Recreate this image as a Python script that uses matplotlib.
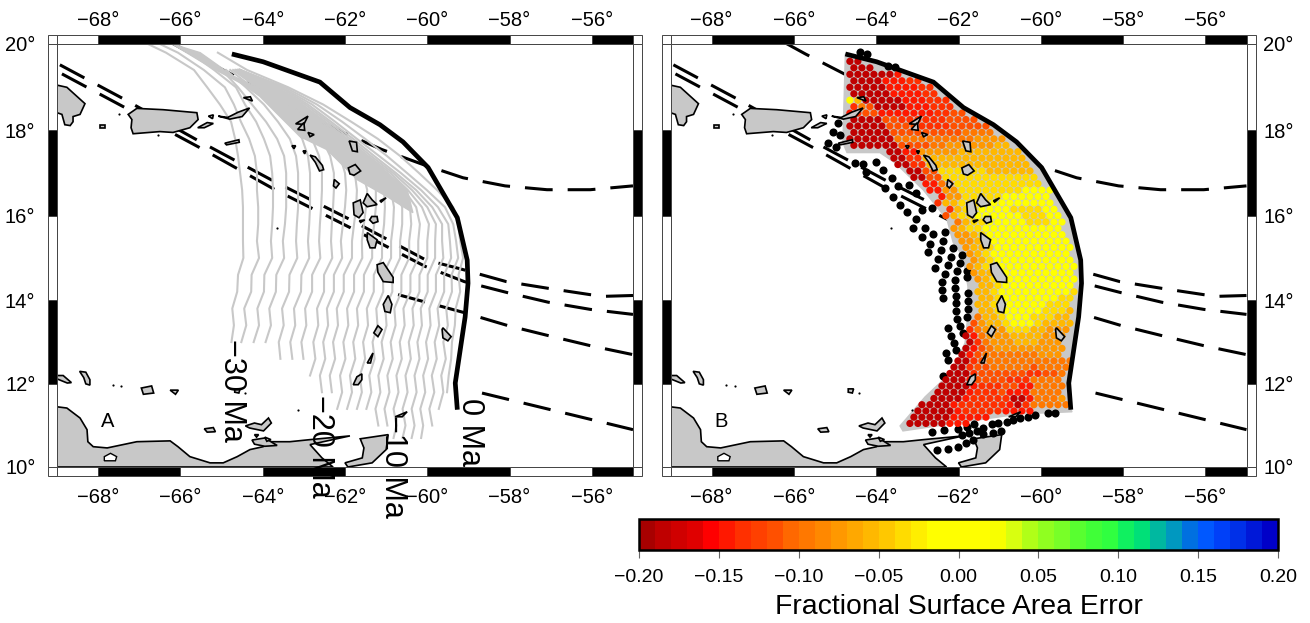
"""
plot.py - two Mercator panels of the Caribbean arc: isochrones (A) and
fractional surface area error of the restored plate (B), shared colour bar.
"""
import matplotlib
matplotlib.use("Agg")
import matplotlib.pyplot as plt
import numpy as np
from matplotlib.colors import BoundaryNorm, ListedColormap
from matplotlib.patches import Polygon, Rectangle

plt.rcParams["font.family"] = ["Liberation Sans", "DejaVu Sans"]
plt.rcParams["lines.scale_dashes"] = False

nan = np.nan

# ---- map furniture -------------------------------------------------------
lon_ticks = [-68, -66, -64, -62, -60, -58, -56]
lat_ticks = [10, 12, 14, 16, 18, 20]
lon_edges = [-69, -68, -66, -64, -62, -60, -58, -56, -55]
lat_edges = [10, 12, 14, 16, 18, 20]

# ---- trench and faults (lon, lat) ----------------------------------------
trench_lon = [-64.75, -63.99, -62.61, -61.88, -61.15, -60.59, -59.98, -59.27, -59.03, -59.01, -59.08, -59.32, -59.27]
trench_lat = [19.77, 19.59, 19.12, 18.53, 18.13, 17.73, 17.13, 15.95, 14.95, 14.40, 13.60, 12.02, 11.38]

fault1_lon = [-66.22, -65.72, -64.43, -63.58, -62.05, -61.10, -60.10, -59.13, -58.11, -57.09, -56.04, -55.0]
fault1_lat = [20.03, 19.77, 19.14, 18.65, 17.95, 17.55, 17.20, 16.89, 16.70, 16.61, 16.61, 16.70]
fault2_lon = [-68.93, -67.40, -65.57, -63.75, -61.88, -60.05, -59.15, -58.08, -57.06, -56.04, -55.70, -55.0]
fault2_lat = [19.52, 18.74, 17.76, 16.82, 15.91, 14.96, 14.73, 14.44, 14.28, 14.13, 14.09, 14.11]
fault3_lon = [-68.88, -67.35, -65.52, -63.72, -61.88, -60.05, -59.10, -58.06, -57.06, -56.04, -55.0]
fault3_lat = [19.31, 18.53, 17.59, 16.62, 15.72, 14.80, 14.44, 14.18, 13.95, 13.78, 13.66]
fault4_lon = [-60.71, -59.13, -58.03, -57.04, -56.02, -55.0]
fault4_lat = [14.13, 13.71, 13.39, 13.15, 12.91, 12.70]
fault5_lon = [-58.67, -55.0]
fault5_lat = [11.78, 10.90]
faults = [(fault1_lon, fault1_lat), (fault2_lon, fault2_lat), (fault3_lon, fault3_lat),
          (fault4_lon, fault4_lat), (fault5_lon, fault5_lat)]

# ---- isochrones, lon of each line at these latitudes ---------------------
iso_lat = [20.0, 19.8, 19.4, 19.0, 18.6, 18.2, 17.8, 17.4, 17.0, 16.6, 16.2, 15.8, 15.4,
           15.0, 14.6, 14.2, 13.8, 13.4, 13.0, 12.6, 12.2, 11.8, 11.4, 11.0, 10.7]
iso_lon = [
    [-66.79, -66.35, -65.67, -65.35, -65.04, -64.77, -64.67, -64.60, -64.55, -64.50, -64.48, -64.48, -64.48,
     -64.47, -64.60, -64.62, -64.74, -64.70, -64.76],
    [-66.50, -66.06, -65.43, -64.92, -64.70, -64.53, -64.33, -64.19, -64.14, -64.14, -64.11, -64.11, -64.14,
     -64.09, -64.27, -64.28, -64.45, -64.40, -64.52],
    [-66.13, -65.77, -65.18, -64.65, -64.43, -64.16, -63.97, -63.82, -63.77, -63.75, -63.75, -63.77, -63.80,
     -63.77, -63.96, -63.97, -64.13, -64.09, -64.22],
    [nan, nan, -64.99, -64.60, -64.26, -63.92, -63.65, -63.48, -63.43, -63.43, -63.43, -63.46, -63.51,
     -63.48, -63.67, -63.68, -63.84, -63.80, -63.93],
    [nan, nan, -64.89, -64.41, -63.97, -63.63, -63.34, -63.19, -63.14, -63.14, -63.14, -63.17, -63.19,
     -63.16, -63.35, -63.36, -63.53, -63.49, -63.61, -63.57],
    [nan, nan, -64.79, -64.26, -63.77, -63.29, -63.04, -62.90, -62.85, -62.85, -62.85, -62.87, -62.90,
     -62.87, -63.06, -63.07, -63.24, -63.21, -63.33, -63.28],
    [nan, nan, -64.72, -64.14, -63.63, -63.14, -62.80, -62.63, -62.56, -62.56, -62.58, -62.61, -62.63,
     -62.60, -62.80, -62.80, -62.97, -62.94, -63.06, -63.01],
    [nan, nan, -64.67, -64.09, -63.53, -63.00, -62.56, -62.36, -62.27, -62.27, -62.29, -62.32, -62.34,
     -62.31, -62.51, -62.51, -62.68, -62.65, -62.77, -62.72, -62.85],
    [nan, nan, -64.65, -64.04, -63.48, -62.92, -62.41, -62.12, -62.00, -61.97, -62.00, -62.05, -62.10,
     -62.07, -62.27, -62.27, -62.44, -62.41, -62.53, -62.48, -62.61, -62.56],
    [nan, nan, -64.62, -63.99, -63.43, -62.87, -62.34, -61.93, -61.76, -61.71, -61.73, -61.78, -61.83,
     -61.83, -62.03, -62.03, -62.20, -62.17, -62.29, -62.24, -62.37, -62.32],
    [nan, nan, -64.60, -63.94, -63.38, -62.83, -62.29, -61.83, -61.56, -61.46, -61.49, -61.54, -61.59,
     -61.58, -61.78, -61.78, -61.95, -61.92, -62.04, -61.99, -62.12, -62.07, -62.19],
    [nan, nan, -64.60, -63.89, -63.34, -62.78, -62.24, -61.76, -61.42, -61.25, -61.25, -61.29, -61.34,
     -61.34, -61.54, -61.54, -61.71, -61.68, -61.80, -61.75, -61.88, -61.83, -61.95],
    [nan, nan, -64.58, -63.87, -63.29, -62.73, -62.19, -61.68, -61.29, -61.05, -61.03, -61.05, -61.10,
     -61.10, -61.30, -61.30, -61.47, -61.44, -61.56, -61.51, -61.64, -61.59, -61.71],
    [nan, nan, -64.58, -63.85, -63.24, -62.68, -62.14, -61.63, -61.20, -60.88, -60.81, -60.83, -60.88,
     -60.88, -61.08, -61.07, -61.24, -61.21, -61.33, -61.28, -61.41, -61.36, -61.48],
    [nan, nan, -64.55, -63.82, -63.19, -62.63, -62.10, -61.59, -61.12, -60.76, -60.61, -60.61, -60.66,
     -60.66, -60.85, -60.85, -61.02, -60.99, -61.11, -61.06, -61.19, -61.14, -61.26, -61.19],
    [nan, nan, -64.55, -63.80, -63.14, -62.58, -62.05, -61.54, -61.05, -60.66, -60.42, -60.39, -60.44,
     -60.44, -60.63, -60.63, -60.80, -60.77, -60.89, -60.84, -60.97, -60.92, -61.04, -60.97],
    [nan, nan, -64.55, -63.75, -63.09, -62.53, -62.00, -61.49, -60.98, -60.56, -60.27, -60.18, -60.22,
     -60.22, -60.41, -60.41, -60.58, -60.55, -60.67, -60.62, -60.75, -60.70, -60.82, -60.75, -60.82],
    [nan, nan, -64.55, -63.70, -63.04, -62.48, -61.95, -61.44, -60.90, -60.47, -60.13, -59.96, -60.00,
     -60.00, -60.19, -60.19, -60.36, -60.33, -60.45, -60.40, -60.53, -60.48, -60.60, -60.53, -60.60],
    [nan, nan, -64.55, -63.65, -62.97, -62.41, -61.88, -61.37, -60.83, -60.37, -60.00, -59.79, -59.81,
     -59.81, -59.99, -59.99, -60.16, -60.13, -60.24, -60.19, -60.31, -60.26, -60.38, -60.31, -60.38],
    [nan, nan, -64.55, -63.58, -62.90, -62.34, -61.80, -61.29, -60.76, -60.27, -59.88, -59.64, -59.64,
     -59.61, -59.79, -59.79, -59.95, -59.92, -60.03, -59.98, -60.10, -60.05, -60.17, -60.10, -60.15],
    [nan, nan, -64.55, -63.53, -62.80, -62.24, -61.71, -61.17, -60.64, -60.15, -59.74, -59.49, -59.45,
     -59.42, -59.59, -59.59, -59.75, -59.71, -59.82, -59.77, -59.89, -59.83, -59.95, -59.88],
    [nan, nan, -64.55, -63.46, -62.68, -62.07, -61.51, -60.98, -60.49, -60.01, -59.57, -59.37, -59.30,
     -59.25, -59.41, -59.40, -59.54, -59.50, -59.61, -59.55, -59.66, -59.61, -59.72],
    [nan, -65.09, -64.38, -63.38, -62.53, -61.85, -61.20, -60.66, -60.20, -59.76, -59.37, -59.25, -59.20,
     -59.13, -59.24, -59.20, -59.31, -59.33, -59.40, -59.42, -59.48, -59.52],
]
# where the isochrones run together into one solid grey mass
iso_band = [(-66.2, 20.0), (-65.52, 19.80), (-64.72, 19.26), (-63.75, 18.84), (-62.85, 18.25), (-62.05, 17.78),
            (-61.15, 17.15), (-60.49, 16.61), (-60.35, 16.07), (-60.98, 16.45), (-61.71, 16.85), (-62.44, 17.55),
            (-63.09, 17.85), (-63.58, 18.32), (-64.07, 18.79), (-64.48, 19.07), (-65.04, 19.35), (-65.52, 19.61)]
iso_labels = ["0 Ma", "\u221210 Ma", "\u221220 Ma", "\u221230 Ma"]
iso_label_lon = [-58.95, -60.83, -62.60, -64.75]
iso_label_lat = [11.66, 11.26, 11.74, 13.08]

# ---- land ------------------------------------------------------------------
mainland = [(-69.0, 11.45), (-68.76, 11.42), (-68.44, 11.18), (-68.27, 10.9), (-68.25, 10.61), (-68.12, 10.49),
            (-67.78, 10.46), (-67.06, 10.61), (-66.25, 10.63), (-66.06, 10.49), (-65.77, 10.25), (-65.28, 10.1),
            (-64.96, 10.1), (-64.62, 10.25), (-64.31, 10.42), (-63.99, 10.49), (-63.82, 10.61), (-63.34, 10.61),
            (-62.85, 10.66), (-61.88, 10.75), (-62.85, 10.54), (-62.56, 10.22), (-62.29, 10.0), (-69.0, 10.0)]
trinidad = [(-61.93, 10.0), (-61.34, 10.1), (-61.0, 10.42), (-60.95, 10.78), (-61.63, 10.68), (-61.54, 10.46),
            (-61.58, 10.22), (-62.0, 10.1)]
hispaniola = [(-69.0, 19.05), (-68.76, 19.0), (-68.32, 18.62), (-68.44, 18.37), (-68.61, 18.32), (-68.61, 18.2),
              (-68.68, 18.11), (-68.81, 18.13), (-68.88, 18.37), (-69.0, 18.41)]
puerto_rico = [(-67.27, 18.37), (-67.06, 18.51), (-66.42, 18.48), (-65.60, 18.41), (-65.57, 18.25), (-65.77, 18.06),
               (-66.18, 17.95), (-66.50, 17.97), (-67.15, 17.92), (-67.20, 18.06), (-67.18, 18.25)]
islands = [
    [(-67.95, 18.12), (-67.83, 18.12), (-67.83, 18.05), (-67.95, 18.05)],
    [(-65.58, 18.06), (-65.35, 18.18), (-65.2, 18.16), (-65.42, 18.06)],
    [(-65.08, 18.33), (-64.85, 18.3), (-64.6, 18.42), (-64.32, 18.52), (-64.5, 18.32), (-64.8, 18.26)],
    [(-65.32, 18.33), (-65.2, 18.36), (-65.22, 18.27)],
    [(-64.92, 17.70), (-64.58, 17.78), (-64.57, 17.72), (-64.88, 17.66)],
    [(-64.47, 18.76), (-64.25, 18.68), (-64.3, 18.78)],
    [(-63.2, 18.15), (-62.9, 18.33), (-63.0, 18.14)],
    [(-63.15, 18.02), (-63.0, 18.18), (-62.98, 18.0)],
    [(-62.9, 17.95), (-62.75, 17.9), (-62.85, 17.85)],
    [(-63.29, 17.64), (-63.2, 17.64), (-63.24, 17.57)],
    [(-63.02, 17.52), (-62.95, 17.52), (-62.98, 17.45)],
    [(-62.85, 17.42), (-62.72, 17.38), (-62.55, 17.18), (-62.52, 17.08), (-62.62, 17.05), (-62.72, 17.25)],
    [(-62.26, 16.85), (-62.14, 16.75), (-62.22, 16.65), (-62.28, 16.7)],
    [(-61.9, 17.75), (-61.72, 17.72), (-61.7, 17.5), (-61.82, 17.52)],
    [(-61.92, 17.12), (-61.75, 17.2), (-61.62, 17.05), (-61.78, 16.95), (-61.88, 16.98)],
    [(-61.80, 16.30), (-61.63, 16.37), (-61.56, 16.07), (-61.66, 15.95), (-61.78, 16.02)],
    [(-61.56, 16.30), (-61.46, 16.52), (-61.34, 16.37), (-61.22, 16.26), (-61.46, 16.21)],
    [(-61.15, 16.35), (-61.0, 16.42), (-61.12, 16.32)],
    [(-61.35, 15.98), (-61.22, 15.98), (-61.2, 15.86), (-61.32, 15.82), (-61.4, 15.9)],
    [(-61.65, 15.88), (-61.52, 15.9), (-61.62, 15.84)],
    [(-61.46, 15.60), (-61.22, 15.43), (-61.27, 15.24), (-61.39, 15.24), (-61.46, 15.43)],
    [(-61.22, 14.84), (-61.07, 14.89), (-60.83, 14.54), (-60.83, 14.42), (-61.07, 14.44), (-61.2, 14.66)],
    [(-61.07, 13.90), (-60.95, 14.11), (-60.86, 13.90), (-60.90, 13.70), (-61.03, 13.73)],
    [(-61.3, 13.22), (-61.2, 13.39), (-61.1, 13.30), (-61.2, 13.13)],
    [(-61.46, 12.5), (-61.32, 12.74), (-61.38, 12.5)],
    [(-61.8, 11.98), (-61.71, 12.17), (-61.59, 12.24), (-61.59, 12.1), (-61.68, 11.98)],
    [(-59.64, 13.3), (-59.62, 13.34), (-59.42, 13.13), (-59.5, 13.03), (-59.62, 13.1)],
    [(-60.78, 11.21), (-60.49, 11.33), (-60.61, 11.21)],
    [(-64.26, 10.65), (-63.95, 10.7), (-63.65, 10.52), (-63.95, 10.5), (-64.2, 10.55)],
    [(-64.42, 10.99), (-64.2, 11.06), (-64.03, 11.02), (-63.86, 11.18), (-63.79, 11.06), (-63.98, 10.87), (-64.32, 10.94)],
    [(-64.2, 10.78), (-64.1, 10.78), (-64.15, 10.72)],
    [(-63.95, 10.72), (-63.8, 10.66), (-63.9, 10.62)],
    [(-65.42, 10.92), (-65.2, 10.95), (-65.15, 10.85), (-65.35, 10.84)],
    [(-69.0, 12.2), (-68.85, 12.2), (-68.65, 12.03), (-68.75, 12.02), (-69.0, 12.12)],
    [(-68.45, 12.3), (-68.3, 12.28), (-68.2, 12.1), (-68.2, 11.97), (-68.3, 12.0), (-68.35, 12.15)],
    [(-66.95, 11.9), (-66.7, 11.95), (-66.65, 11.78), (-66.9, 11.75)],
    [(-66.25, 11.85), (-66.05, 11.85), (-66.12, 11.75)],
    [(-64.68, 11.88), (-64.55, 11.88), (-64.58, 11.78), (-64.68, 11.8)],
]
lake = [(-67.85, 10.25), (-67.7, 10.33), (-67.55, 10.25), (-67.58, 10.15), (-67.85, 10.15)]
tiny_lon = [-67.64, -67.44, -67.49, -66.54, -63.65, -64.43, -63.14]
tiny_lat = [11.98, 11.95, 18.39, 17.90, 15.72, 11.78, 11.38]

# ---- panel B: plate outline, error dots, dropped dots ----------------------
plate_edge = [(-59.24, 11.33), (-60.50, 11.28), (-61.48, 11.14), (-63.35, 10.87), (-63.42, 10.99), (-62.81, 11.69),
              (-62.16, 12.29), (-61.84, 12.98), (-61.77, 13.66), (-61.77, 14.32), (-61.89, 15.03), (-62.13, 15.37),
              (-62.28, 15.91), (-62.86, 16.61), (-63.54, 17.24), (-63.91, 17.48), (-64.71, 17.48), (-64.81, 17.71)]

black_lon = [-64.39, -64.22, -63.71, -63.54, -64.93, -65.05, -64.88, -65.17, -64.98, -64.51, -64.32, -64.00,
             -63.83, -64.25, -63.62, -63.47, -63.79, -63.59, -63.20, -63.03, -63.42, -63.25, -62.89, -62.64,
             -63.03, -62.81, -63.10, -62.62, -62.33, -62.89, -62.69, -62.37, -62.13, -61.91, -62.74, -62.42,
             -62.18, -62.50, -62.25, -61.96, -62.57, -62.03, -62.33, -61.79, -62.40, -62.08, -61.79, -62.08,
             -62.40, -62.38, -61.77, -62.06, -61.77, -62.06, -61.77, -62.06, -61.79, -62.03, -61.96, -62.25,
             -62.18, -61.89, -62.11, -62.06, -62.30, -62.25, -62.38,
             -62.64, -62.35, -62.01, -61.79, -61.62, -61.40, -61.18, -61.04, -60.82, -60.67, -60.50, -60.31,
             -60.14, -59.82, -59.65, -60.97, -61.16, -61.40, -61.55, -61.74, -61.91, -61.65, -61.82, -62.01,
             -62.25, -62.52]
black_lat = [19.82, 19.77, 19.49, 19.47, 18.18, 17.97, 17.90, 17.71, 17.62, 17.24, 17.22, 17.27,
             17.08, 17.03, 16.89, 16.70, 16.66, 16.45, 16.73, 16.54, 16.26, 16.09, 16.14, 16.19,
             15.91, 15.72, 15.70, 15.57, 15.62, 15.50, 15.34, 15.39, 15.24, 15.08, 15.15, 15.20,
             15.03, 14.98, 14.84, 14.89, 14.77, 14.68, 14.63, 14.70, 14.42, 14.47, 14.54, 14.28,
             14.23, 14.06, 14.16, 14.09, 13.97, 13.92, 13.78, 13.73, 13.61, 13.56, 13.39, 13.34,
             13.15, 13.22, 12.98, 12.82, 12.74, 12.58, 12.19,
             10.85, 10.90, 10.92, 10.97, 11.04, 10.94, 11.04, 11.06, 11.09, 11.14, 11.18, 11.21,
             11.26, 11.30, 11.30, 10.87, 10.82, 10.80, 10.87, 10.82, 10.78, 10.66, 10.58, 10.49,
             10.44, 10.42]

# one character per dot of the staggered grid, digit = index into err_levels
err_levels = [-0.19, -0.185, -0.145, -0.135, -0.115, -0.095, -0.075, -0.055, -0.035, 0.0]
err_lon0 = -64.64
err_dlon = 0.1945
err_lat0 = 19.6
err_dlat = 0.15
err_rows = [
    "11",
    "111",
    "1111112",
    "111122233",
    "11111222233",
    "11111222233",
    "9711111222333",
    "3541111222333",
    "234422222223344",
    "1111443333334444",
    "111114444333344444",
    "111114444444445555",
    "11111155555555556666",
    "11111144445566666677",
    "     11226666677777777",
    "     11337777777777777",
    "      11337777777777777",
    "       1144888888777777",
    "        1144888888888888",
    "         225588888888888",
    "          2266888888889999",
    "           26688888999999",
    "           377888899999999",
    "            37889999888899",
    "            478899999988899",
    "             57889999988899",
    "             67889999999999",
    "             66789999999999",
    "              66789999999999",
    "              67789999999999",
    "               6789999999999",
    "               6789999999999",
    "               67889999999999",
    "               6778999999999",
    "                6789999999999",
    "                778999999999",
    "                7789999999998",
    "                778999999988",
    "                778999999888",
    "                778999998887",
    "                577899988877",
    "               4677899987777",
    "               3566688877666",
    "              1256667777666",
    "               135666777666",
    "              1245666666666",
    "              1245555555666",
    "             113455555555555",
    "             113445555545555",
    "            111344444433445",
    "            111244443335555",
    "           1111233344225555",
    "           1111233342225555",
    "          11112333331125556",
    "         1111233333321355555",
    "        111112333332222",
    "        1111122222",
    "       11111222",
]

# ---- colour bar ------------------------------------------------------------
err_bounds = [round(-0.20 + 0.01 * i, 2) for i in range(41)]
err_colors = ["#a80000", "#bf0000", "#d00000", "#e00000", "#ff0000", "#ff1800", "#ff3000", "#ff4000",
              "#ff5000", "#ff6800", "#ff7800", "#ff8800", "#ff9800", "#ffa800", "#ffb800", "#ffc800",
              "#ffdc00", "#ffee00", "#ffff00", "#ffff00", "#ffff00", "#ffff00", "#f8ff00", "#d8ff10",
              "#b0ff18", "#90ff20", "#78ff28", "#58ff30", "#40ff38", "#30ff40", "#10f060", "#00e078",
              "#00b8a0", "#0098c0", "#0070e0", "#0058ff", "#0040f8", "#0030e8", "#0018d8", "#0000c8"]
cb_ticks = [-0.20, -0.15, -0.10, -0.05, 0.0, 0.05, 0.10, 0.15, 0.20]

LAND = "#c8c8c8"
W, H = 1310, 623


def merc(lat):
    return np.degrees(np.log(np.tan(np.pi / 4 + np.radians(lat) / 2)))


def merc_inv(y):
    return np.degrees(2 * np.arctan(np.exp(np.radians(y))) - np.pi / 2)


def add_frame(ax):
    # striped GMT style border, 9 px wide
    h = 9 / 423
    w = 9 / 576
    tx = ax.get_xaxis_transform()
    ty = ax.get_yaxis_transform()
    for i in range(len(lon_edges) - 1):
        fc = "k" if i % 2 else "w"
        for y0 in (1, -h):
            ax.add_patch(Rectangle((lon_edges[i], y0), lon_edges[i + 1] - lon_edges[i], h, transform=tx,
                                   fc=fc, ec="#444444", lw=0.7, clip_on=False, zorder=10))
    for i in range(len(lat_edges) - 1):
        fc = "k" if i % 2 else "w"
        for x0 in (1, -w):
            ax.add_patch(Rectangle((x0, lat_edges[i]), w, lat_edges[i + 1] - lat_edges[i], transform=ty,
                                   fc=fc, ec="#444444", lw=0.7, clip_on=False, zorder=10))
    for x0 in (-w, 1):
        for y0 in (-h, 1):
            ax.add_patch(Rectangle((x0, y0), w, h, transform=ax.transAxes, fc="w", ec="#444444", lw=0.7,
                                   clip_on=False, zorder=10))


def base_map(left_px, right_labels):
    ax = fig.add_axes([left_px / W, (H - 467) / H, 576 / W, 423 / H])
    ax.set_yscale("function", functions=(merc, merc_inv))
    ax.set_xlim(-69, -55)
    ax.set_ylim(10, 20)
    lon_labels = [f"\u2212{-v}\u00b0" for v in lon_ticks]
    ax.set_xticks(lon_ticks, lon_labels)
    ax.set_yticks(lat_ticks, [f"{v}\u00b0" for v in lat_ticks])
    ax.minorticks_off()
    ax.tick_params(axis="x", length=0, pad=15.3, labelsize=14.5)
    ax.tick_params(axis="y", length=0, pad=12 if right_labels else 15.5, labelsize=14.5, left=False, right=False,
                   labelleft=not right_labels, labelright=right_labels)
    top = ax.secondary_xaxis("top")
    top.set_xticks(lon_ticks, lon_labels)
    top.tick_params(length=0, pad=10.3, labelsize=14.5)
    top.spines["top"].set_visible(False)
    for sp in ax.spines.values():
        sp.set_linewidth(0.7)
        sp.set_color("#444444")
    add_frame(ax)

    # land below the plate, islands above everything
    for poly in (mainland, trinidad):
        ax.add_patch(Polygon(poly, closed=True, fc=LAND, ec="k", lw=1.2, zorder=1))
    for poly in (hispaniola, puerto_rico):
        ax.add_patch(Polygon(poly, closed=True, fc=LAND, ec="k", lw=1.2, zorder=2.5))
    ax.add_patch(Polygon(lake, closed=True, fc="w", ec="k", lw=1.0, zorder=1.5))
    for poly in islands:
        ax.add_patch(Polygon(poly, closed=True, fc=LAND, ec="k", lw=1.2, zorder=7))
    ax.scatter(tiny_lon, tiny_lat, s=2.5, c="k", linewidths=0, zorder=7)
    for lon, lat in faults:
        ax.plot(lon, lat, color="k", lw=2.2, linestyle=(0, (20, 10.8)), dash_capstyle="butt", zorder=2)
    ax.plot(trench_lon, trench_lat, color="k", lw=3.4, solid_capstyle="butt", solid_joinstyle="miter", zorder=6)
    return ax


fig = plt.figure(figsize=(W / 100, H / 100), dpi=100)

# panel A
ax_a = base_map(57, False)
ax_a.add_patch(Polygon(iso_band, closed=True, fc=LAND, ec=LAND, lw=1, zorder=3))
for lons in iso_lon:
    ax_a.plot(lons, iso_lat[:len(lons)], color=LAND, lw=1.5, zorder=3)
for txt, lon, lat in zip(iso_labels, iso_label_lon, iso_label_lat):
    ax_a.text(lon, lat, txt, rotation=-90, ha="center", va="top", fontsize=22, zorder=12, clip_on=False)
ax_a.text(-67.78, 11.1, "A", ha="center", va="center", fontsize=14.5, zorder=8)

# panel B
cmap = ListedColormap(err_colors)
norm = BoundaryNorm(err_bounds, cmap.N)
ax_b = base_map(670.5, True)
plate = list(zip(trench_lon, trench_lat)) + plate_edge
ax_b.add_patch(Polygon(plate, closed=True, fc=LAND, ec=LAND, lw=1, zorder=3))
dot_lon, dot_lat, dot_err = [], [], []
for i, row in enumerate(err_rows):
    for k, ch in enumerate(row):
        if ch != " ":
            dot_lon.append(err_lon0 + (k + 0.5 * (i % 2)) * err_dlon)
            dot_lat.append(err_lat0 - i * err_dlat)
            dot_err.append(err_levels[int(ch)])
ax_b.scatter(black_lon, black_lat, s=34, c="k", linewidths=0, zorder=4)
sm = ax_b.scatter(dot_lon, dot_lat, s=27, c=dot_err, cmap=cmap, norm=norm, linewidths=0, zorder=5)
ax_b.text(-67.78, 11.1, "B", ha="center", va="center", fontsize=14.5, zorder=8)

# colour bar
cax = fig.add_axes([639 / W, (H - 550) / H, 639 / W, 31 / H])
cb = fig.colorbar(sm, cax=cax, orientation="horizontal", ticks=cb_ticks, spacing="proportional")
cb.set_ticklabels([f"{v:.2f}".replace("-", "\u2212") for v in cb_ticks])
cb.ax.minorticks_off()
cb.ax.tick_params(length=6, width=0.8, color="#666666", labelsize=14, pad=7.5)
cb.outline.set_linewidth(1.8)
cb.set_label("Fractional Surface Area Error", fontsize=20.4, labelpad=6)

fig.savefig("out.png", dpi=100)
